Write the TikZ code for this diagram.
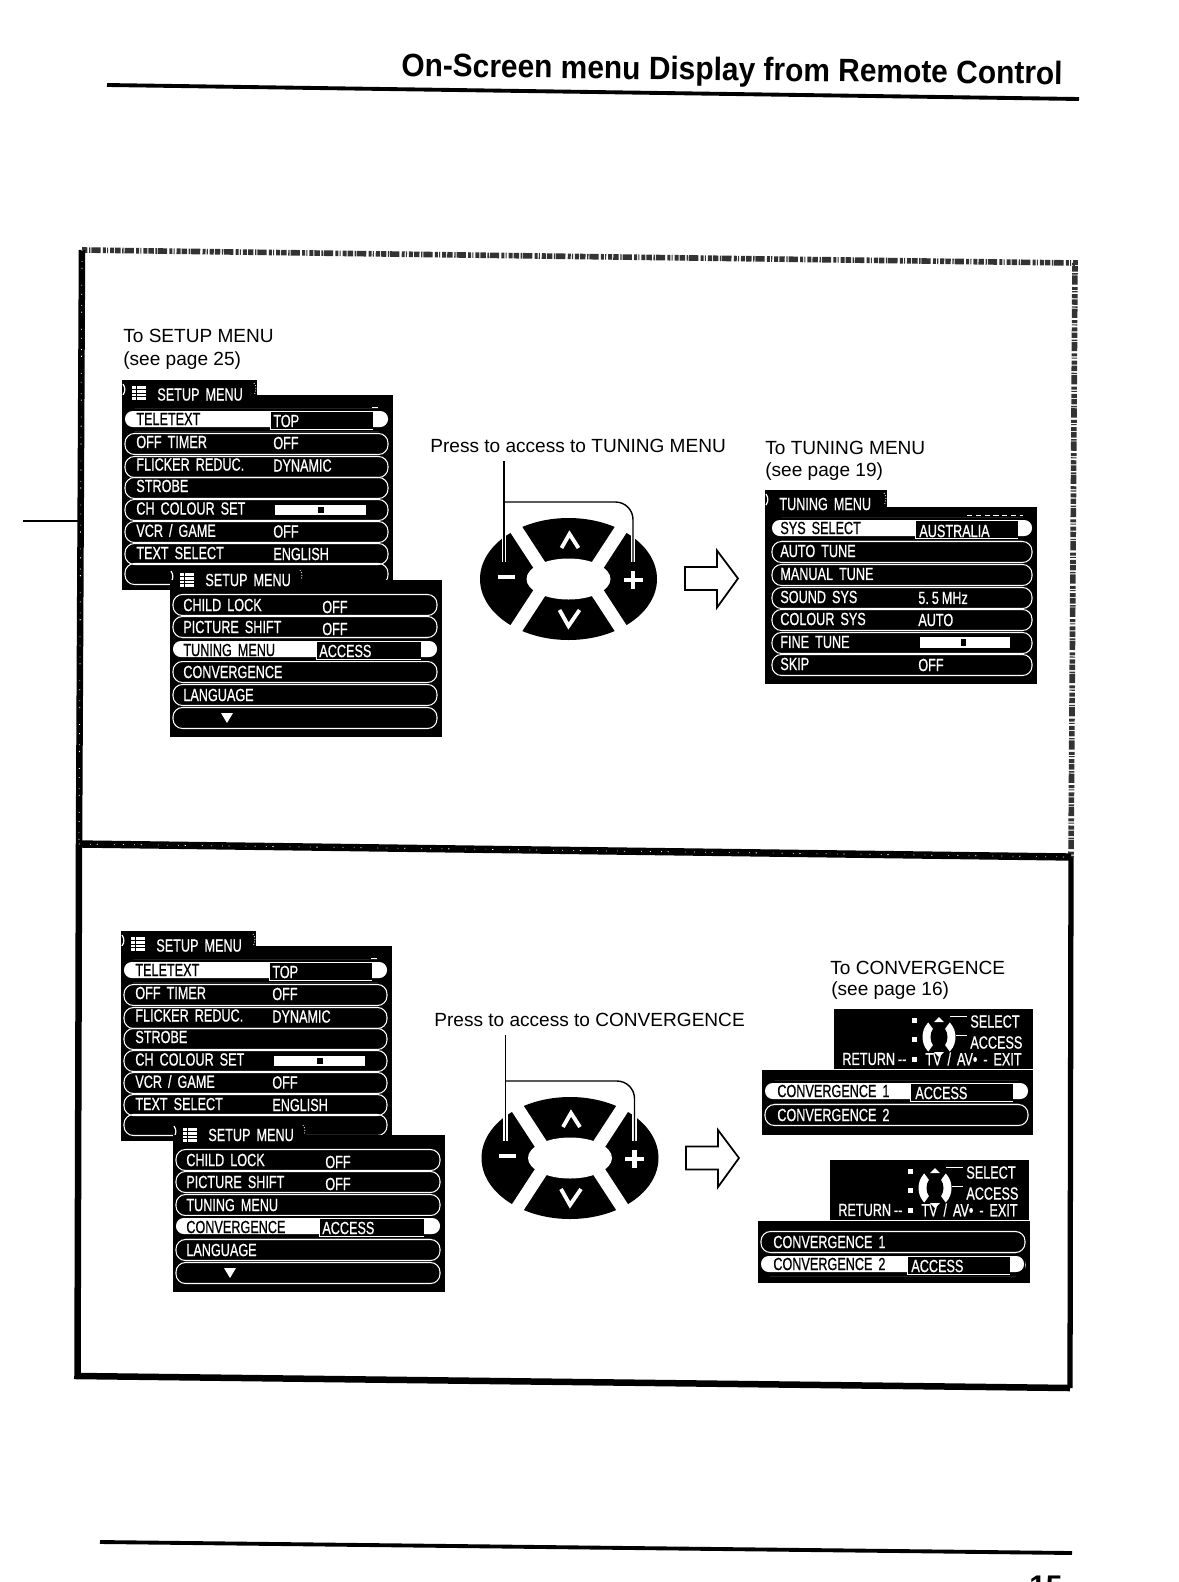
\documentclass[tikz,border=0pt]{standalone}
\usepackage{fontspec}
\setmainfont{Liberation Sans}
\newfontfamily\menufont[FakeStretch=0.72,WordSpace=1.7,FakeBold=0.7]{Liberation Sans}
\newfontfamily\headfont[FakeStretch=0.925]{Liberation Sans}
\usepackage{tikz}

\tikzset{
  bodytext/.style={font=\fontsize{10.85pt}{14pt}\selectfont, anchor=west, inner sep=0pt},
  menutext/.style={font=\menufont\fontsize{10pt}{12pt}\selectfont, anchor=west, inner sep=0pt, text=white},
  seltext/.style={menutext, text=black},
  menurow/.style={draw=white, line width=0.6pt, rounded corners=5.4pt},
  selrow/.style={fill=white, rounded corners=4.4pt},
  ruleline/.style={line width=2.2pt},
  frameline/.style={line width=3.7pt},
  grainline/.style={line width=3.2pt, black!80, dash pattern=on 3.1pt off 0.9pt on 0.8pt off 0.5pt on 5.3pt off 1.3pt on 1.7pt off 0.7pt on 0.6pt off 1.1pt on 2.3pt off 0.6pt},
  speckline/.style={white, line width=0.45pt, dash pattern=on 0.5pt off 5.9pt on 0.4pt off 3.3pt on 0.7pt off 9.1pt on 0.4pt off 4.7pt},
  whiteline/.style={white, line width=7.4pt},
  glyphline/.style={white, line width=2.2pt}
}

% framed list: body, then one rounded row per y
\newcommand{\menubody}[6]{%
  \fill (#1,#2) rectangle (#3,#4);
  \foreach \y in {#6} \draw[menurow] (#5,\y-10.5) rectangle (#3-5,\y+10.5);
}
\newcommand{\tabhead}[3]{%
  \fill (#1,#2) rectangle (#3,#2+17);
  \draw[white, line width=0.7pt] (#1+1,#2+4) to[bend left=35] (#1+1,#2+15);
  \draw[white, line width=0.5pt, densely dotted] (#3-3,#2+3) to[bend left=35] (#3-3,#2+15);
}
\newcommand{\listicon}[2]{%
  \fill[white] (#1,#2) rectangle (#1+14,#2+14);
  \foreach \k in {3.5,7,10.5} \draw[line width=0.5pt] (#1,#2+\k) -- (#1+14,#2+\k);
  \draw[line width=0.5pt] (#1+4,#2) -- (#1+4,#2+14);
}
% selected row: pill #1..#2, black value box #3..#4, at height #5
\newcommand{\selstrip}[5]{%
  \fill (#1-1,#5-11) rectangle (#2+1,#5+11);
  \fill[selrow] (#1,#5-9) rectangle (#2,#5+7);
  \fill (#3,#5-8) rectangle (#4,#5+9);
  \draw[white, line width=0.4pt] (#3,#5-8) -- (#3,#5+9) -- (#4,#5+9);
}

% first setup page
\newcommand{\setuppageone}{%
  \tabhead{0}{0}{135}
  \menubody{0}{15}{271}{210}{3}{40,64,87,108,130,152,174,194}
  \listicon{10}{6}
  \node[menutext] (title) at (35,14.5) {SETUP MENU};
  \fill[white] (250,26.5) rectangle (256,27.5);
  \selstrip{3}{266}{148}{251}{40}
  \node[seltext] (teletext) at (14,39) {TELETEXT};
  \node[menutext] (top) at (151,41) {TOP};
  \foreach \n/\y/\t/\v in {a/62/OFF TIMER/OFF, b/84.5/FLICKER REDUC./DYNAMIC,
                           c/106/STROBE/{}, d/128.5/CH COLOUR SET/{},
                           e/150.5/{VCR / GAME}/OFF, f/173/TEXT SELECT/ENGLISH} {
    \node[menutext] (lab\n) at (14,\y) {\t};
    \node[menutext] (val\n) at (151,\y+1) {\v};
  }
  \fill[white] (153,125) rectangle (244,135);
  \fill (196,127) rectangle (202,133);
}

% second setup page, #1 is the row drawn as selected
\newcommand{\setuppagetwo}[1]{%
  \tabhead{0}{0}{133}
  \menubody{0}{13}{272}{170}{3}{38,60,83,105,128,151}
  \listicon{10}{6}
  \node[menutext] (title) at (35,13) {SETUP MENU};
  \foreach \n/\y/\t/\v in {a/38/CHILD LOCK/OFF, b/60/PICTURE SHIFT/OFF,
                           c/83/TUNING MENU/{}, d/105/CONVERGENCE/{}, e/128/LANGUAGE/{}} {
    \ifnum#1=\y
      \selstrip{3}{267}{146}{251}{\y}
      \node[seltext] (lab\n) at (13,\y) {\t};
      \node[menutext] (val\n) at (149,\y+1) {ACCESS};
    \else
      \node[menutext] (lab\n) at (13,\y) {\t};
      \node[menutext] (val\n) at (152,\y+2) {\v};
    \fi
  }
  \fill[white] (51,146) -- (63,146) -- (57,156) -- cycle;
}

% rocker keys with the call-out line, #1 names the text it hangs from
\newcommand{\rockerkeys}[1]{%
  \fill (0,0) ellipse (88.5 and 61);
  \draw[whiteline] (-54,-52) -- (-24,-6);
  \draw[whiteline] (54,-52) -- (24,-6);
  \draw[whiteline] (-54,52) -- (-24,6);
  \draw[whiteline] (54,52) -- (24,6);
  \fill[white] (0,0) ellipse (42 and 20.5);
  \draw[glyphline, miter limit=3] (-7,-31) -- (1,-45) -- (10,-31);
  \draw[glyphline, miter limit=3] (-9,31) -- (0,47) -- (11,31);
  \draw[white, line width=2.7pt] (-71,-2) -- (-54,-2);
  \draw[white, line width=2.7pt] (55,1) -- (74,1) (64.5,-8) -- (64.5,10);
  \coordinate (minusend) at (-64.5,-17);
  \coordinate (plusend) at (64.5,-17);
  \coordinate (branch) at (-64.5,-77);
  \draw[white, line width=2.8pt] (-64.5,-46) -- (minusend) (64.5,-46) -- (plusend);
  \draw[line width=0.8pt] (minusend |- #1.south) ++(0,8) -- (minusend);
  \draw[line width=0.8pt, rounded corners=10pt] (branch) -- (plusend |- branch) -- (plusend);
}

\newcommand{\nextarrow}{%
  \draw[fill=white, line width=1pt] (0,-11.5) -- (32,-11.5) -- (32,-28) -- (53,0)
    -- (32,29) -- (32,11.5) -- (0,11.5) -- cycle;
}

% help strip over the convergence rows
\newcommand{\helpstrip}{%
  \fill (0,0) rectangle (199,60);
  \foreach \y in {11,30,50} \fill[white] (78,\y-2.5) rectangle (83,\y+2.5);
  \fill[white] (105,28) ellipse (16.5 and 19);
  \fill (105,28) ellipse (8.5 and 11.5);
  \fill (105,28) -- (89,6) -- (121,6) -- cycle;
  \fill (105,28) -- (89,50) -- (121,50) -- cycle;
  \fill[white] (100,13) -- (105,8) -- (110,13) -- cycle;
  \fill[white] (100,43) -- (105,48) -- (110,43) -- cycle;
  \draw[white, line width=0.5pt] (116,7) -- (133,7) (122,26) -- (133,26);
  \node[menutext] (sel) at (136,12.5) {SELECT};
  \node[menutext] (acc) at (136,33.5) {ACCESS};
  \node[menutext] (ret) at (8,50) {RETURN\,--};
  \node[menutext] (tvav) at (91,50) {TV / AV\textbullet\ - EXIT};
}

\begin{document}
\begin{tikzpicture}[x=0.02cm, y=-0.02cm]
  \useasboundingbox (0,0) rectangle (1179,1582);
  % page head and foot
  \node[font=\headfont\bfseries\fontsize{18.4pt}{20pt}\selectfont, anchor=west, inner sep=0pt, rotate=-0.7] (heading) at (401,68) {On-Screen menu Display from Remote Control};
  \draw[ruleline] (107,85) -- (1079,99);
  \draw[ruleline] (100,1542) -- (1072,1553);
  \node[font=\bfseries\fontsize{17pt}{18pt}\selectfont, anchor=base west, inner sep=0pt] (pageno) at (1029,1596) {15};
  % frames
  \coordinate (tl) at (82,250);
  \coordinate (tr) at (1075,263);
  \coordinate (ml) at (79,844);
  \coordinate (mr) at (1071,857);
  \coordinate (bl) at (77.5,1376);
  \coordinate (br) at (1070,1388);
  \draw[grainline] (tl) -- (tr) -- (mr);
  \draw[frameline] (tl) -- (ml) -- (bl) -- (br);
  \draw[line width=3pt] (br) -- (mr);
  \draw[line width=4.2pt] (ml) -- (mr);
  \draw[speckline] (tl) -- (ml);
  \draw[speckline] (ml) -- (mr);
  \draw[line width=1.2pt] (23,521) -- (ml |- 0,521);
  % top panel
  \node[bodytext] (setuplink) at (123,336) {To SETUP MENU};
  \node[bodytext] (setuppage) at (123,361) {(see page 25)};
  \begin{scope}[shift={(122,380)}, name prefix=ta-]
    \setuppageone
  \end{scope}
  \begin{scope}[shift={(170,567)}, name prefix=tb-]
    \setuppagetwo{83}
  \end{scope}
  \node[bodytext] (presstune) at (430,446) {Press to access to TUNING MENU};
  \begin{scope}[shift={(568.5,579)}, name prefix=tk-]
    \rockerkeys{presstune}
  \end{scope}
  \begin{scope}[shift={(685,578.5)}]
    \nextarrow
  \end{scope}
  \node[bodytext] (tunelink) at (765,448) {To TUNING MENU};
  \node[bodytext] (tunepage) at (765,472) {(see page 19)};
  \begin{scope}[shift={(765,490)}, name prefix=tn-]
    \tabhead{0}{0}{122}
    \menubody{0}{17}{272}{194}{7}{39,62,85,108,130,153,175}
    \node[menutext] (title) at (14,14) {TUNING MENU};
    \draw[white, line width=0.5pt, densely dashed] (202,25) -- (258,25);
    \selstrip{7}{267}{150}{253}{39}
    \node[seltext] (syssel) at (15,38) {SYS SELECT};
    \node[menutext] (aus) at (154,41) {AUSTRALIA};
    \foreach \n/\y/\t/\v in {a/61/AUTO TUNE/{}, b/84/MANUAL TUNE/{},
                             c/107/SOUND SYS/{5.\,5\,MHz}, d/129/COLOUR SYS/AUTO,
                             e/152/FINE TUNE/{}, f/174/SKIP/OFF} {
      \node[menutext] (lab\n) at (15,\y) {\t};
      \node[menutext] (val\n) at (153,\y+1) {\v};
    }
    \fill[white] (155,147) rectangle (245,158);
    \fill (196,149) rectangle (201,156);
  \end{scope}
  % bottom panel
  \begin{scope}[shift={(121,931)}, name prefix=ba-]
    \setuppageone
  \end{scope}
  \begin{scope}[shift={(173,1122)}, name prefix=bb-]
    \setuppagetwo{105}
  \end{scope}
  \node[bodytext] (pressconv) at (434,1020) {Press to access to CONVERGENCE};
  \begin{scope}[shift={(570,1158)}, name prefix=bk-]
    \rockerkeys{pressconv}
  \end{scope}
  \begin{scope}[shift={(686,1158)}]
    \nextarrow
  \end{scope}
  \node[bodytext] (convlink) at (830,968) {To CONVERGENCE};
  \node[bodytext] (convpage) at (831,991) {(see page 16)};
  \begin{scope}[shift={(834,1009)}, name prefix=ha-]
    \helpstrip
  \end{scope}
  \begin{scope}[shift={(762,1070)}, name prefix=ca-]
    \menubody{0}{0}{271}{65}{3}{22,45}
    \selstrip{3}{266}{148}{251}{22}
    \node[seltext] (labone) at (15,21) {CONVERGENCE 1};
    \node[menutext] (valone) at (153,23) {ACCESS};
    \node[menutext] (labtwo) at (15,45) {CONVERGENCE 2};
  \end{scope}
  \begin{scope}[shift={(830,1160)}, name prefix=hb-]
    \helpstrip
  \end{scope}
  \begin{scope}[shift={(758,1221)}, name prefix=cb-]
    \menubody{0}{0}{272}{62}{3}{21,44}
    \selstrip{3}{266}{149}{252}{44}
    \node[menutext] (labone) at (15,21) {CONVERGENCE 1};
    \node[seltext] (labtwo) at (15,43) {CONVERGENCE 2};
    \node[menutext] (valtwo) at (153,45) {ACCESS};
  \end{scope}
\end{tikzpicture}
\end{document}
